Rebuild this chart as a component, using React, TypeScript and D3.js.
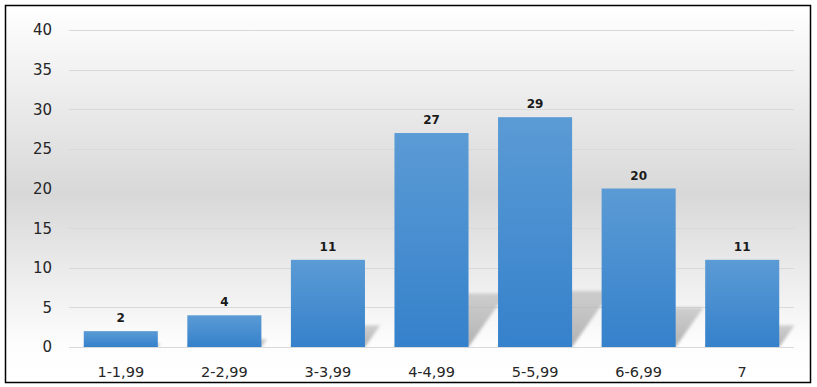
import React from 'react';
import * as d3 from 'd3';

// data
const categories = ['1-1,99', '2-2,99', '3-3,99', '4-4,99', '5-5,99', '6-6,99', '7'];
const counts = [2, 4, 11, 27, 29, 20, 11];
const yTicks = [0, 5, 10, 15, 20, 25, 30, 35, 40];

const W = 817;
const H = 387;
const margin = { top: 30, right: 23, bottom: 40, left: 69 };

const App: React.FC = () => {
  const plotW = W - margin.left - margin.right;
  const plotH = H - margin.top - margin.bottom;

  const x = d3.scaleBand().domain(categories).range([0, plotW]).paddingInner(0.285).paddingOuter(0.1425);
  const y = d3.scaleLinear().domain([0, 40]).range([plotH, 0]);

  const font = '"DejaVu Sans", Verdana, sans-serif';

  return (
    <svg width={W} height={H} style={{ position: 'absolute', left: 0, top: 0 }}>
      <defs>
        <linearGradient id="bg" x1="0" y1="0" x2="0" y2="1">
          <stop offset="0" stopColor="#ffffff" />
          <stop offset="0.5" stopColor="#d8d8d8" />
          <stop offset="0.9" stopColor="#fdfdfd" />
          <stop offset="1" stopColor="#ffffff" />
        </linearGradient>
        <linearGradient id="bar" x1="0" y1="0" x2="0" y2="1">
          <stop offset="0" stopColor="#5b9bd5" />
          <stop offset="1" stopColor="#3581cb" />
        </linearGradient>
        <linearGradient id="shade" x1="0" y1="1" x2="0" y2="0">
          <stop offset="0" stopColor="#a9a9a9" stopOpacity="0.9" />
          <stop offset="1" stopColor="#bdbdbd" stopOpacity="0.7" />
        </linearGradient>
        <filter id="blur" x="-20%" y="-40%" width="140%" height="180%">
          <feGaussianBlur stdDeviation="1.8" />
        </filter>
        <clipPath id="plotClip">
          <rect x={0} y={-margin.top} width={plotW + 20} height={plotH + margin.top} />
        </clipPath>
      </defs>

      <rect x={5.5} y={5.5} width={805} height={377} fill="url(#bg)" stroke="#000" strokeWidth={1.5} />

      <g transform={`translate(${margin.left},${margin.top})`}>
        {yTicks.map((t) => (
          <g key={t}>
            <line x1={0} x2={plotW} y1={Math.round(y(t)) + 0.5} y2={Math.round(y(t)) + 0.5} stroke="#d9d9d9" strokeWidth={1} />
            <text x={-17} y={y(t)} dy="0.36em" textAnchor="end" fontFamily={font} fontSize={15} fill="#262626">
              {t}
            </text>
          </g>
        ))}

        {/* perspective shadows */}
        <g clipPath="url(#plotClip)">
          {categories.map((c, i) => {
            const x0 = x(c)!;
            const x1 = x0 + x.bandwidth();
            const bh = plotH - y(counts[i]);
            const h = Math.min(bh * 0.25, 56);
            const dx = h * 0.7;
            const b = y(0);
            const pts = `${x0},${b} ${x1},${b} ${x1 + dx},${b - h} ${x0 + dx},${b - h}`;
            return <polygon key={c} points={pts} fill="url(#shade)" filter="url(#blur)" />;
          })}
        </g>

        {categories.map((c, i) => (
          <rect key={c} x={x(c)} y={y(counts[i])} width={x.bandwidth()} height={plotH - y(counts[i])} fill="url(#bar)" />
        ))}

        {categories.map((c, i) => (
          <text key={c} x={x(c)! + x.bandwidth() / 2} y={y(counts[i]) - 9} textAnchor="middle" fontFamily={font} fontWeight="bold" fontSize={12} fill="#1a1a1a">
            {counts[i]}
          </text>
        ))}

        {categories.map((c) => (
          <text key={c} x={x(c)! + x.bandwidth() / 2} y={plotH + 30} textAnchor="middle" fontFamily={font} fontSize={14.5} fill="#262626">
            {c}
          </text>
        ))}
      </g>
    </svg>
  );
};

export default App;
